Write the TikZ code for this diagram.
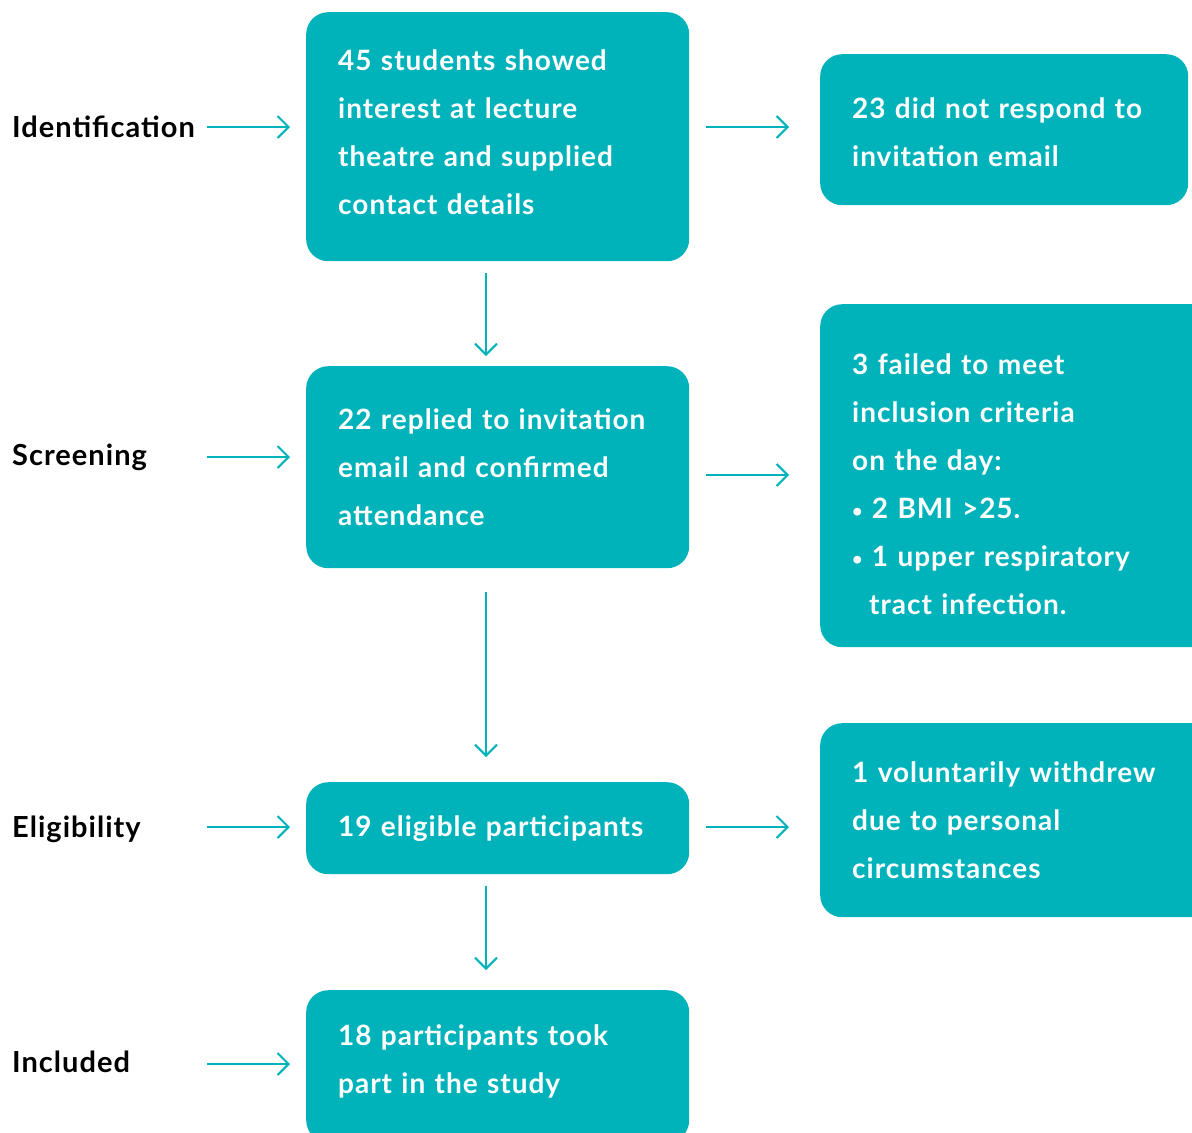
\documentclass[tikz,border=0pt]{standalone}
\usepackage{fontspec}
\setmainfont{Lato}[LetterSpace=3.5]
\usetikzlibrary{arrows.meta}
\definecolor{tealbox}{HTML}{00B2BA}
\newcommand{\blt}{{\fontsize{18}{48}\selectfont\raisebox{1pt}{\textbullet}}\ }
\tikzset{
  stage/.style={anchor=west, font=\fontsize{29}{48}\selectfont\bfseries, text=black, inner sep=0pt},
  box/.style={anchor=north west, fill=tealbox, rounded corners=22pt, text=white,
    font=\fontsize{28}{48}\selectfont\bfseries, align=left, inner xsep=32pt, inner ysep=0pt},
  flow/.style={draw=tealbox, line width=2pt, -{Straight Barb[length=11pt,width=22pt]}}
}
\begin{document}
\begin{tikzpicture}[x=1pt,y=-1pt]
\useasboundingbox (0,0) rectangle (1192,1133);
% stages
\node[stage] (id)  at (12,127)  {Identification};
\node[stage] (scr) at (12,457)  {Screening};
\node[stage] (eli) at (12,829)  {Eligibility};
\node[stage] (inc) at (12,1062) {Included};
% main column
\node[box, text width=319pt, minimum height=249pt] (b1) at (306,12)
  {45 students showed\\interest at lecture\\theatre and supplied\\contact details\rule[-9pt]{0pt}{0pt}};
\node[box, text width=319pt, minimum height=202pt] (b2) at (306,366)
  {22 replied to invitation\\email and confirmed\\attendance};
\node[box, text width=319pt, minimum height=92pt] (b3) at (306,782)
  {19 eligible participants};
\node[box, text width=319pt, minimum height=152pt] (b4) at (306,990)
  {18 participants took\\part in the study\rule[-14pt]{0pt}{0pt}};
% exclusions
\node[box, text width=304pt, minimum height=151pt] (r1) at (820,54)
  {\rule{0pt}{26pt}23 did not respond to\\invitation email};
\node[box, text width=330pt, minimum height=343pt] (r2) at (820,304)
  {\rule{0pt}{38pt}3 failed to meet\\inclusion criteria\\on the day:\\\blt 2 BMI >25.\\\blt 1 upper respiratory\\\hspace*{17pt}tract infection.};
\node[box, text width=330pt, minimum height=194pt] (r3) at (820,723)
  {1 voluntarily withdrew\\due to personal\\circumstances};
% arrow ends
\coordinate (ci) at (207,127);
\coordinate (cs) at (207,457);
\coordinate (ce) at (207,827);
\coordinate (cn) at (207,1064);
\coordinate (cx) at (0,475);
\coordinate (dx) at (486,0);
\draw[flow, shorten >=16pt] (ci) -- (ci -| b1.west);
\draw[flow, shorten >=16pt] (cs) -- (cs -| b2.west);
\draw[flow, shorten >=16pt] (ce) -- (ce -| b3.west);
\draw[flow, shorten >=16pt] (cn) -- (cn -| b4.west);
\draw[flow, shorten <=17pt, shorten >=31pt] (b1.east |- ci) -- (r1.west |- ci);
\draw[flow, shorten <=17pt, shorten >=31pt] (b2.east |- cx) -- (r2.west |- cx);
\draw[flow, shorten <=17pt, shorten >=31pt] (b3.east |- ce) -- (r3.west |- ce);
\draw[flow, shorten <=12pt, shorten >=10pt] (b1.south -| dx) -- (b2.north -| dx);
\draw[flow, shorten <=24pt, shorten >=25pt] (b2.south -| dx) -- (b3.north -| dx);
\draw[flow, shorten <=12pt, shorten >=20pt] (b3.south -| dx) -- (b4.north -| dx);
\end{tikzpicture}
\end{document}
